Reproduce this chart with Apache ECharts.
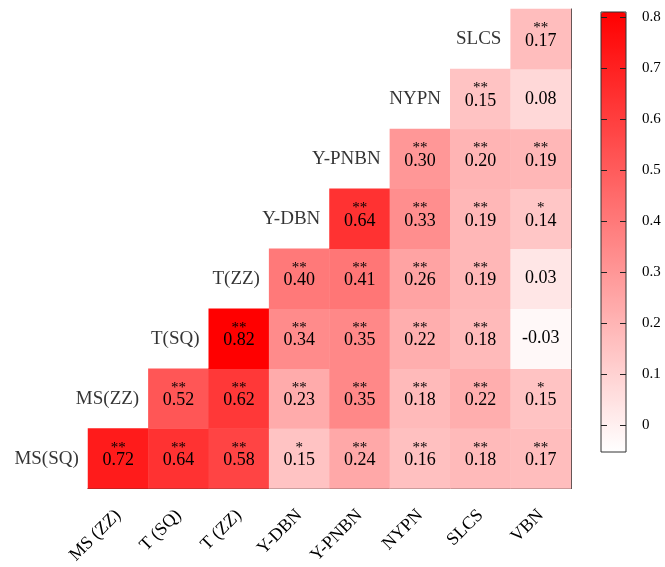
<!DOCTYPE html>
<html>
<head>
<meta charset="utf-8">
<script src="https://cdn.jsdelivr.net/npm/echarts@6/dist/echarts.min.js"></script>
<style>
  html, body { margin: 0; padding: 0; background: #fff; }
  #chart { width: 665px; height: 567px; }
</style>
</head>
<body>
<div id="chart"></div>
<script>
// column labels (x axis, bottom)
const colLabels = ["MS (ZZ)", "T (SQ)", "T (ZZ)", "Y-DBN", "Y-PNBN", "NYPN", "SLCS", "VBN"];
// row labels, bottom to top
const rowLabels = ["MS(SQ)", "MS(ZZ)", "T(SQ)", "T(ZZ)", "Y-DBN", "Y-PNBN", "NYPN", "SLCS"];

// correlation values per row (bottom to top), null = empty cell
const corrMSSQ  = [0.72, 0.64, 0.58, 0.15, 0.24, 0.16, 0.18, 0.17];
const corrMSZZ  = [null, 0.52, 0.62, 0.23, 0.35, 0.18, 0.22, 0.15];
const corrTSQ   = [null, null, 0.82, 0.34, 0.35, 0.22, 0.18, -0.03];
const corrTZZ   = [null, null, null, 0.40, 0.41, 0.26, 0.19, 0.03];
const corrYDBN  = [null, null, null, null, 0.64, 0.33, 0.19, 0.14];
const corrYPNBN = [null, null, null, null, null, 0.30, 0.20, 0.19];
const corrNYPN  = [null, null, null, null, null, null, 0.15, 0.08];
const corrSLCS  = [null, null, null, null, null, null, null, 0.17];

// significance marks per row
const sigMSSQ  = ["**", "**", "**", "*", "**", "**", "**", "**"];
const sigMSZZ  = ["", "**", "**", "**", "**", "**", "**", "*"];
const sigTSQ   = ["", "", "**", "**", "**", "**", "**", ""];
const sigTZZ   = ["", "", "", "**", "**", "**", "**", ""];
const sigYDBN  = ["", "", "", "", "**", "**", "**", "*"];
const sigYPNBN = ["", "", "", "", "", "**", "**", "**"];
const sigNYPN  = ["", "", "", "", "", "", "**", ""];
const sigSLCS  = ["", "", "", "", "", "", "", "**"];

// colour bar
const scaleMin = -0.053;
const scaleMax = 0.81;
const barTicks = [0, 0.1, 0.2, 0.3, 0.4, 0.5, 0.6, 0.7, 0.8];

const corrRows = [corrMSSQ, corrMSZZ, corrTSQ, corrTZZ, corrYDBN, corrYPNBN, corrNYPN, corrSLCS];
const sigRows = [sigMSSQ, sigMSZZ, sigTSQ, sigTZZ, sigYDBN, sigYPNBN, sigNYPN, sigSLCS];

const FONT = "Liberation Serif";

const cells = [];
corrRows.forEach((row, y) => {
  row.forEach((v, x) => {
    if (v === null) return;
    cells.push({ value: [x, y, v], sig: sigRows[y][x] });
  });
});

// row label sits in the cell just left of the diagonal
const rowLabelData = rowLabels.map((name, i) => ({ value: [i - 1, i], name: name }));

const chart = echarts.init(document.getElementById("chart"));

const option = {
  animation: false,
  backgroundColor: "#fff",
  grid: [
    { left: 88, top: 9, width: 483, height: 482 },
    {
      left: 601, top: 12, width: 25, height: 440,
      show: true, backgroundColor: "transparent",
      borderColor: "#333", borderWidth: 1, z: 6,
    },
  ],
  xAxis: [
    {
      type: "category",
      gridIndex: 0,
      data: colLabels,
      axisLine: { show: true, lineStyle: { color: "#333", width: 1 } },
      axisTick: { show: false },
      splitLine: { show: false },
      axisLabel: {
        rotate: 45,
        margin: 24,
        color: "#000",
        fontFamily: FONT,
        fontSize: 18,
      },
    },
    {
      type: "value",
      gridIndex: 0,
      min: -0.5,
      max: 7.5,
      show: false,
    },
    {
      type: "value",
      gridIndex: 1,
      show: false,
    },
  ],
  yAxis: [
    {
      type: "category",
      gridIndex: 0,
      data: rowLabels,
      axisLine: { show: false },
      axisTick: { show: false },
      axisLabel: { show: false },
      splitLine: { show: false },
    },
    {
      type: "category",
      gridIndex: 0,
      position: "right",
      data: rowLabels,
      axisLine: { show: true, lineStyle: { color: "#333", width: 1 } },
      axisTick: { show: false },
      axisLabel: { show: false },
    },
    {
      type: "value",
      gridIndex: 1,
      position: "left",
      min: scaleMin,
      max: scaleMax,
      z: 6,
      axisLine: { show: false },
      axisTick: {
        show: true, inside: true, length: 6,
        customValues: barTicks,
        lineStyle: { color: "#222" },
      },
      axisLabel: { show: false, customValues: barTicks },
      splitLine: { show: false },
    },
    {
      type: "value",
      gridIndex: 1,
      position: "right",
      min: scaleMin,
      max: scaleMax,
      z: 6,
      axisLine: { show: false },
      axisTick: {
        show: true, inside: true, length: 6,
        customValues: barTicks,
        lineStyle: { color: "#222" },
      },
      axisLabel: {
        show: true,
        customValues: barTicks,
        margin: 16,
        color: "#000",
        fontFamily: FONT,
        fontSize: 15,
        formatter: (v) => String(Math.round(v * 10) / 10),
      },
      splitLine: { show: false },
    },
  ],
  visualMap: {
    type: "continuous",
    seriesIndex: 0,
    min: scaleMin,
    max: scaleMax,
    calculable: false,
    orient: "vertical",
    left: 601,
    top: 12,
    padding: 0,
    itemWidth: 25,
    itemHeight: 440,
    z: 1,
    inRange: { color: ["#ffffff", "#ff0000"] },
  },
  series: [
    {
      type: "heatmap",
      xAxisIndex: 0,
      yAxisIndex: 0,
      data: cells,
      itemStyle: { borderWidth: 0 },
      emphasis: { disabled: true },
      label: {
        show: true,
        color: "#000",
        formatter: (p) => {
          const v = p.data.value[2].toFixed(2);
          if (p.data.sig) {
            return "{s|" + p.data.sig + "}\n{v|" + v + "}\n{b| }";
          }
          return "{v|" + v + "}";
        },
        rich: {
          s: { fontFamily: FONT, fontSize: 15, lineHeight: 8, color: "#000" },
          v: { fontFamily: FONT, fontSize: 18, lineHeight: 18, color: "#000" },
          b: { fontFamily: FONT, fontSize: 4, lineHeight: 4 },
        },
      },
    },
    {
      type: "scatter",
      xAxisIndex: 1,
      yAxisIndex: 0,
      clip: false,
      symbolSize: 0,
      data: rowLabelData,
      silent: true,
      label: {
        show: true,
        position: "inside",
        align: "right",
        offset: [21, 0],
        formatter: (p) => p.name,
        color: "#000",
        fontFamily: FONT,
        fontSize: 19,
      },
    },
  ],
};

chart.setOption(option);
window.addEventListener("resize", () => chart.resize());
</script>
</body>
</html>
